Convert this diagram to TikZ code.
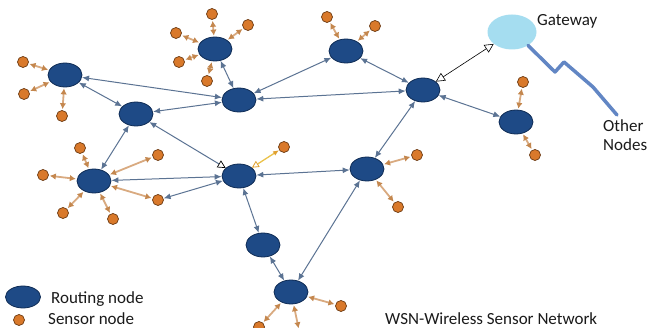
\documentclass[tikz,border=0pt]{standalone}
\usepackage{fontspec}
\setmainfont{Carlito}
\usetikzlibrary{shapes.geometric,arrows.meta}
\definecolor{rfill}{HTML}{1E4A86}
\definecolor{rdraw}{HTML}{0F2C55}
\definecolor{sfill}{HTML}{D9792B}
\definecolor{sdraw}{HTML}{6B3A12}
\definecolor{rlink}{HTML}{5B7393}
\definecolor{slink}{HTML}{D9AA80}
\definecolor{shead}{HTML}{C4874E}
\definecolor{gwfill}{HTML}{A5DDF0}
\definecolor{wavec}{HTML}{6286C4}
\definecolor{ylink}{HTML}{EBC24A}
\definecolor{yhead}{HTML}{E0A030}
\definecolor{txt}{HTML}{1A1A1A}
\begin{document}
\begin{tikzpicture}[x=1pt,y=-1pt,
 rnode/.style={ellipse,fill=rfill,draw=rdraw,line width=0.8pt,minimum width=34pt,minimum height=24pt,inner sep=0pt},
 snode/.style={circle,fill=sfill,draw=sdraw,line width=0.7pt,minimum size=11pt,inner sep=0pt},
 rl/.style={draw=rlink,line width=1pt,{Latex[length=7pt,width=6pt]}-{Latex[length=7pt,width=6pt]}},
 sl/.style={draw=slink,line width=1.8pt,shorten <=1pt,shorten >=1pt,{Latex[length=6pt,width=6.5pt,color=shead]}-{Latex[length=6pt,width=6.5pt,color=shead]}},
 lbl/.style={font=\fontsize{17}{19}\selectfont,text=txt,inner sep=0pt,anchor=base west}]
\clip (0,0) rectangle (649,328);
\fill[white] (0,0) rectangle (649,328);
% routing nodes
\node[rnode] (R1) at (65,75) {};
\node[rnode] (R2) at (136,114) {};
\node[rnode] (R3) at (215,49) {};
\node[rnode] (R4) at (239,100) {};
\node[rnode] (R5) at (346,51) {};
\node[rnode] (R6) at (423,90) {};
\node[rnode] (R7) at (516,122) {};
\node[rnode] (R8) at (94,181) {};
\node[rnode] (R9) at (239,176) {};
\node[rnode] (R10) at (367,169) {};
\node[rnode] (R11) at (263,245) {};
\node[rnode] (R12) at (291,292) {};
% gateway
\node[ellipse,fill=gwfill,minimum width=49pt,minimum height=35pt,inner sep=0pt] (GW) at (512,32) {};
% sensor nodes
\node[snode] (s1a) at (23,62) {};
\node[snode] (s1b) at (24,94) {};
\node[snode] (s1c) at (62,116) {};
\node[snode] (s3a) at (212,14) {};
\node[snode] (s3b) at (248,25) {};
\node[snode] (s3c) at (176,33) {};
\node[snode] (s3d) at (179,62) {};
\node[snode] (s3e) at (207,81) {};
\node[snode] (s5a) at (327,17) {};
\node[snode] (s5b) at (375,26) {};
\node[snode] (s7a) at (523,82) {};
\node[snode] (s7b) at (535,155) {};
\node[snode] (s8a) at (80,148) {};
\node[snode] (s8b) at (158,155) {};
\node[snode] (s8c) at (43,175) {};
\node[snode] (s8d) at (158,200) {};
\node[snode] (s8e) at (63,213) {};
\node[snode] (s8f) at (113,219) {};
\node[snode] (s9a) at (284,147) {};
\node[snode] (s10a) at (417,155) {};
\node[snode] (s10b) at (398,207) {};
\node[snode] (s12a) at (341,306) {};
\node[snode] (s12b) at (259,327) {};
\node[snode] (s12c) at (300,335) {};
% routing links
\draw[rl] (R1) -- (R2);
\draw[rl] (R1) -- (R4);
\draw[rl] (R2) -- (R4);
\draw[rl] (R3) -- (R4);
\draw[rl] (R4) -- (R5);
\draw[rl] (R4) -- (R6);
\draw[rl] (R5) -- (R6);
\draw[rl] (R6) -- (R7);
\draw[rl] (R10) -- (R6);
\draw[rl] (R2) -- (R8);
\draw[draw=rlink,line width=1pt,{Latex[length=7pt,width=6pt]}-{Triangle[length=8pt,width=8pt,color=black,fill=white,line width=0.7pt]}] (R2) -- (R9);
\draw[rl] (R8) -- (R9);
\draw[rl] (R9) -- (s8d);
\draw[rl] (R9) -- (R10);
\draw[rl] (R9) -- (R11);
\draw[rl] (R11) -- (R12);
\draw[rl] (R10) -- (R12);
% sensor links
\foreach \s in {s1a,s1b,s1c} \draw[sl] (R1) -- (\s);
\foreach \s in {s3a,s3b,s3c,s3d,s3e} \draw[sl] (R3) -- (\s);
\foreach \s in {s5a,s5b} \draw[sl] (R5) -- (\s);
\foreach \s in {s7a,s7b} \draw[sl] (R7) -- (\s);
\foreach \s in {s8a,s8b,s8c,s8d,s8e,s8f} \draw[sl] (R8) -- (\s);
\foreach \s in {s10a,s10b} \draw[sl] (R10) -- (\s);
\foreach \s in {s12a,s12b,s12c} \draw[sl] (R12) -- (\s);
\draw[draw=ylink,line width=1.3pt,{Triangle[length=7pt,width=7pt,color=yhead,fill=white,line width=0.8pt]}-{Latex[length=6pt,width=5pt,color=yhead]}] (R9) -- (s9a);
% gateway link
\draw[black,line width=0.6pt,{Triangle[length=9pt,width=9pt,fill=white]}-{Triangle[length=9pt,width=9pt,fill=white]}] (R6) -- (GW);
% wave to other nodes
\coordinate (w1) at (555,72);
\coordinate (w2) at (564,62);
\coordinate (w3) at (593,87);
\coordinate (w4) at (617,115);
\draw[wavec,line width=3.5pt,line join=round,line cap=round] (GW.-40) -- (w1) -- (w2) -- (w3) -- (w4);
% labels
\node[lbl] (tgw) at (537,26) {Gateway};
\node[lbl] (tother) at (603,132) {Other};
\node[lbl] (tnodes) at (603,151) {Nodes};
% legend
\node[rnode,minimum width=35pt,minimum height=22pt] (Lr) at (23,297) {};
\node[snode] (Ls) at (19,320) {};
\node[lbl] (tr) at (51,304) {Routing node};
\node[lbl] (ts) at (48,325) {Sensor node};
\node[lbl] (twsn) at (385,325) {WSN-Wireless Sensor Network};
\end{tikzpicture}
\end{document}
